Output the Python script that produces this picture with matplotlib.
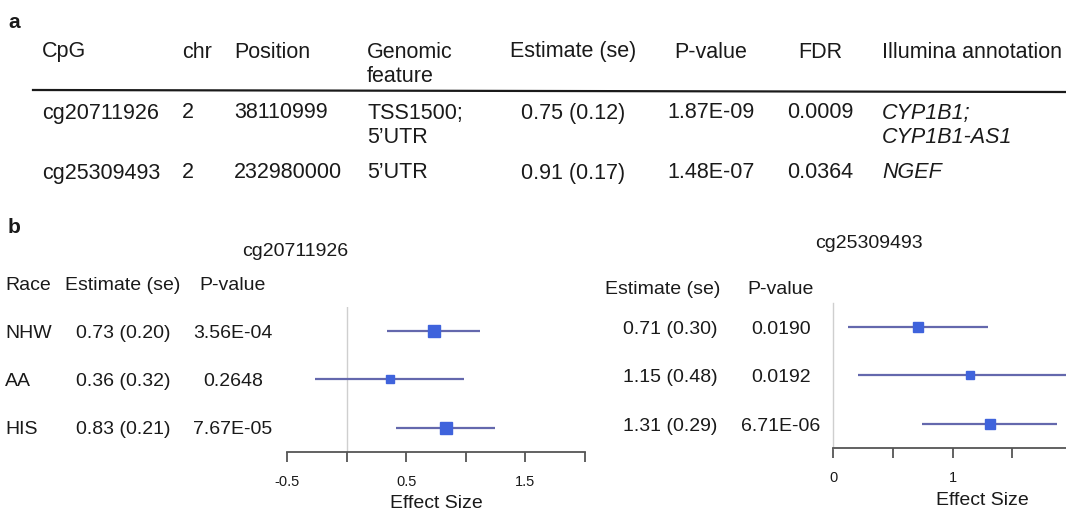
import numpy as np
import matplotlib.pyplot as plt

plt.rcParams['font.family'] = ['Liberation Sans', 'DejaVu Sans']

# panel a: table
cpgs = ["cg20711926", "cg25309493"]
chrs = ["2", "2"]
positions = ["38110999", "232980000"]
features = ["TSS1500;\n5\u2019UTR", "5\u2019UTR"]
estimates = ["0.75 (0.12)", "0.91 (0.17)"]
pvalues = ["1.87E-09", "1.48E-07"]
fdrs = ["0.0009", "0.0364"]
annotations = ["CYP1B1;\nCYP1B1-AS1", "NGEF"]

# panel b: forest plots
races = ["NHW", "AA", "HIS"]
est_1 = [0.73, 0.36, 0.83]
se_1 = [0.20, 0.32, 0.21]
p_1 = ["3.56E-04", "0.2648", "7.67E-05"]
est_2 = [0.71, 1.15, 1.31]
se_2 = [0.30, 0.48, 0.29]
p_2 = ["0.0190", "0.0192", "6.71E-06"]

W, H = 1066, 510
fig = plt.figure(figsize=(W / 100, H / 100), dpi=100)


def px(x, y):
    return x / W, 1 - y / H


def txt(x, y, s, size=15.5, ha='left', va='center', **kw):
    fig.text(*px(x, y), s, fontsize=size, ha=ha, va=va, color='#1a1a1a', **kw)


# ---- table ----
txt(8, 23, "a", size=15, weight='bold')
hy = 52
txt(42, hy, "CpG")
txt(182, hy, "chr")
txt(234, hy, "Position")
txt(367, hy, "Genomic")
txt(367, 77, "feature")
txt(573, hy, "Estimate (se)", ha='center')
txt(711, hy, "P-value", ha='center')
txt(820, hy, "FDR", ha='center')
txt(882, hy, "Illumina annotation")
fig.add_artist(plt.Line2D([33 / W, 1.0], [1 - 91 / H, 1 - 93 / H], color='#1a1a1a', lw=1.6))

row_y = [113, 173]
for i in range(len(cpgs)):
    y = row_y[i]
    txt(42, y, cpgs[i])
    txt(182, y, chrs[i])
    txt(234, y, positions[i])
    txt(367, y if "\n" not in features[i] else y + 12.5, features[i], linespacing=1.15)
    txt(573, y, estimates[i], ha='center')
    txt(711, y, pvalues[i], ha='center')
    txt(820, y, fdrs[i], ha='center')
    txt(882, y if "\n" not in annotations[i] else y + 12.5, annotations[i], style='italic', linespacing=1.15)

# ---- forest plots ----
txt(8, 228, "b", size=15, weight='bold')
fs = 14
txt(295, 251, "cg20711926", size=fs, ha='center')
txt(869, 244, "cg25309493", size=fs, ha='center')

txt(5, 285, "Race", size=fs)
txt(123, 285, "Estimate (se)", size=fs, ha='center')
txt(233, 285, "P-value", size=fs, ha='center')
txt(663, 289, "Estimate (se)", size=fs, ha='center')
txt(781, 289, "P-value", size=fs, ha='center')

rows_1 = [333, 382, 430]
rows_2 = [329, 378, 427]
for i in range(3):
    txt(5, rows_1[i], races[i], size=fs)
    txt(123, rows_1[i], f"{est_1[i]:.2f} ({se_1[i]:.2f})", size=fs, ha='center')
    txt(233, rows_1[i], p_1[i], size=fs, ha='center')
    txt(670, rows_2[i], f"{est_2[i]:.2f} ({se_2[i]:.2f})", size=fs, ha='center')
    txt(781, rows_2[i], p_2[i], size=fs, ha='center')


def forest(ax, est, se, msizes, xlim, ticks, ticklabels):
    est = np.array(est)
    se = np.array(se)
    ypos = np.arange(len(est))
    lo, hi = est - 1.96 * se, est + 1.96 * se
    ax.hlines(ypos, lo, hi, color='#6468ad', lw=1.6, zorder=2)
    for k in range(len(est)):
        ax.plot(est[k], ypos[k], 's', ms=msizes[k], color='#3f63dc', mec='#3f63dc', zorder=3)
    ax.set_xlim(*xlim)
    ax.set_ylim(2.5, -0.5)
    ax.set_yticks([])
    for s in ['top', 'right']:
        ax.spines[s].set_visible(False)
    ax.spines['bottom'].set_color('#555555')
    ax.spines['bottom'].set_linewidth(1.3)
    ax.set_xticks(ticks)
    ax.set_xticklabels(ticklabels)
    ax.tick_params(axis='x', direction='out', length=7, width=1.3, color='#555555',
                   pad=9, labelsize=10.5, labelcolor='#1a1a1a')
    ax.patch.set_alpha(0)


def axes_px(l, r, b, t):
    return fig.add_axes([l / W, 1 - b / H, (r - l) / W, (b - t) / H])


ax1 = axes_px(287, 585, 453, 307.5)
forest(ax1, est_1, se_1, [8, 6, 8], (-0.5, 2.0),
       [-0.5, 0, 0.5, 1.0, 1.5, 2.0], ['-0.5', '', '0.5', '', '1.5', ''])
ax1.spines['left'].set_visible(False)
ax1.axvline(0, color='#cfcfcf', lw=1, zorder=1)

ax2 = axes_px(833, 1066, 449, 303.5)
forest(ax2, est_2, se_2, [7.5, 6, 7.5], (0, (1066 - 833) / 119.5),
       [0, 0.5, 1.0, 1.5], ['0', '', '1', ''])
ax2.spines['left'].set_color('#cfcfcf')
ax2.spines['left'].set_linewidth(1)

txt(436, 508, "Effect Size", size=fs, ha='center', va='baseline')
txt(982, 505, "Effect Size", size=fs, ha='center', va='baseline')

fig.savefig("out.png", dpi=100)
